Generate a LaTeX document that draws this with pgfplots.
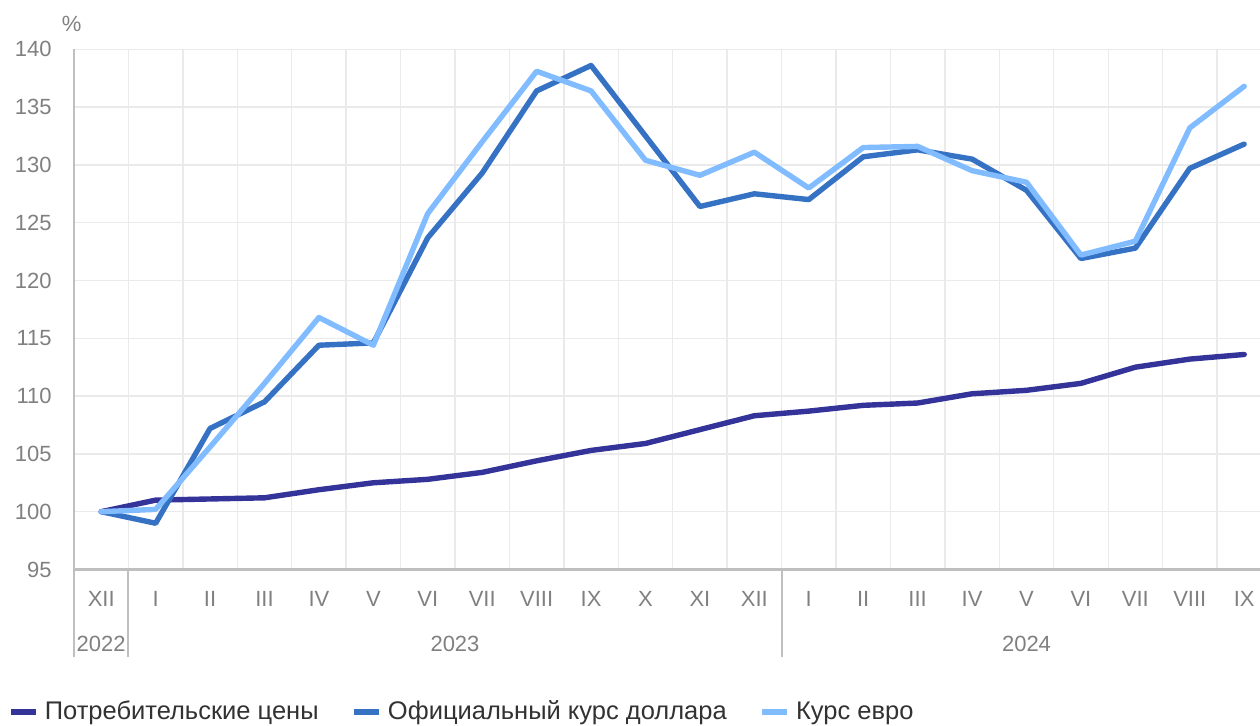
\documentclass[border=0pt]{standalone}
\usepackage{fontspec}
\setmainfont{Liberation Sans}
\usepackage{pgfplots}
\pgfplotsset{compat=1.18}
\definecolor{cpi}{RGB}{51,51,153}
\definecolor{usd}{RGB}{54,114,196}
\definecolor{eur}{RGB}{128,188,255}
\definecolor{gridc}{RGB}{234,234,234}
\definecolor{axc}{RGB}{191,191,191}
\definecolor{tickc}{RGB}{128,128,128}
\definecolor{legc}{RGB}{50,50,50}
\begin{document}
\begin{tikzpicture}
\begin{axis}[
  at={(37pt,78.25pt)}, anchor=south west,
  scale only axis, width=593pt, height=260.1pt,
  xmin=-0.5, xmax=21.29, ymin=95, ymax=140,
  ytick={95,100,...,140},
  xtick={0,...,21},
  xticklabels={XII,I,II,III,IV,V,VI,VII,VIII,IX,X,XI,XII,I,II,III,IV,V,VI,VII,VIII,IX},
  minor xtick={0.5,1.5,...,20.5},
  xminorgrids=true, ymajorgrids=true, xmajorgrids=false,
  minor grid style={gridc, line width=0.65pt},
  major grid style={gridc, line width=0.65pt},
  major tick length=0pt, minor tick length=0pt,
  axis line style={draw=none},
  axis x line*=bottom, axis y line*=left,
  /pgf/number format/assume math mode=true,
  tick label style={font=\fontsize{11pt}{13pt}\selectfont, text=tickc},
  yticklabel style={anchor=east, inner sep=0pt, xshift=-11pt},
  xticklabel style={anchor=center, inner sep=0pt, yshift=-14.75pt},
  clip=false,
  legend columns=3,
  legend style={at={(-0.05565,-0.2739)}, anchor=west, draw=none, fill=none,
    inner sep=0pt, font=\fontsize{12.75pt}{15pt}\selectfont, text=legc,
    nodes={inner sep=0pt},
    /tikz/every odd column/.append style={column sep=3pt},
    /tikz/every even column/.append style={column sep=16.5pt}},
  legend image code/.code={\draw[#1, line width=2.7pt, line cap=butt] (0pt,0pt) -- (12.5pt,0pt);},
]
\addplot[cpi, line width=2.7pt, line join=round, line cap=round] coordinates {
(0,100) (1,101.0) (2,101.1) (3,101.2) (4,101.9) (5,102.5) (6,102.8) (7,103.4) (8,104.4) (9,105.3) (10,105.9) (11,107.1) (12,108.3) (13,108.7) (14,109.2) (15,109.4) (16,110.2) (17,110.5) (18,111.1) (19,112.5) (20,113.2) (21,113.6)};
\addlegendentry{Потребительские цены}
\addplot[usd, line width=2.7pt, line join=round, line cap=round] coordinates {
(0,100) (1,99.0) (2,107.2) (3,109.5) (4,114.4) (5,114.6) (6,123.7) (7,129.3) (8,136.4) (9,138.6) (10,132.5) (11,126.4) (12,127.5) (13,127.0) (14,130.7) (15,131.3) (16,130.5) (17,127.8) (18,121.9) (19,122.8) (20,129.7) (21,131.8)};
\addlegendentry{Официальный курс доллара}
\addplot[eur, line width=2.7pt, line join=round, line cap=round] coordinates {
(0,100) (1,100.2) (2,105.6) (3,111.1) (4,116.8) (5,114.4) (6,125.8) (7,132.0) (8,138.1) (9,136.4) (10,130.4) (11,129.1) (12,131.1) (13,128.0) (14,131.5) (15,131.6) (16,129.5) (17,128.5) (18,122.2) (19,123.4) (20,133.2) (21,136.8)};
\addlegendentry{Курс евро}
% axis lines
\draw[axc, line width=1pt] (axis cs:-0.5,140) -- ([yshift=-43.75pt]axis cs:-0.5,95);
\draw[axc, line width=1.2pt] (axis cs:-0.5,95) -- (axis cs:21.29,95);
\draw[axc, line width=1pt] (axis cs:0.5,95) -- ([yshift=-43.75pt]axis cs:0.5,95);
\draw[axc, line width=1pt] (axis cs:12.5,95) -- ([yshift=-43.75pt]axis cs:12.5,95);
% year labels
\node[font=\fontsize{11pt}{13pt}\selectfont, text=tickc, inner sep=0pt] at ([yshift=-37.25pt]axis cs:0,95) {2022};
\node[font=\fontsize{11pt}{13pt}\selectfont, text=tickc, inner sep=0pt] at ([yshift=-37.25pt]axis cs:6.5,95) {2023};
\node[font=\fontsize{11pt}{13pt}\selectfont, text=tickc, inner sep=0pt] at ([yshift=-37.25pt]axis cs:17,95) {2024};
\node[font=\fontsize{11pt}{13pt}\selectfont, text=tickc, inner sep=0pt] at ([xshift=-1.15pt,yshift=12.65pt]rel axis cs:0,1) {\%};
\end{axis}
\pgfresetboundingbox
\useasboundingbox (0,0) rectangle (630pt,363pt);
\end{tikzpicture}
\end{document}
